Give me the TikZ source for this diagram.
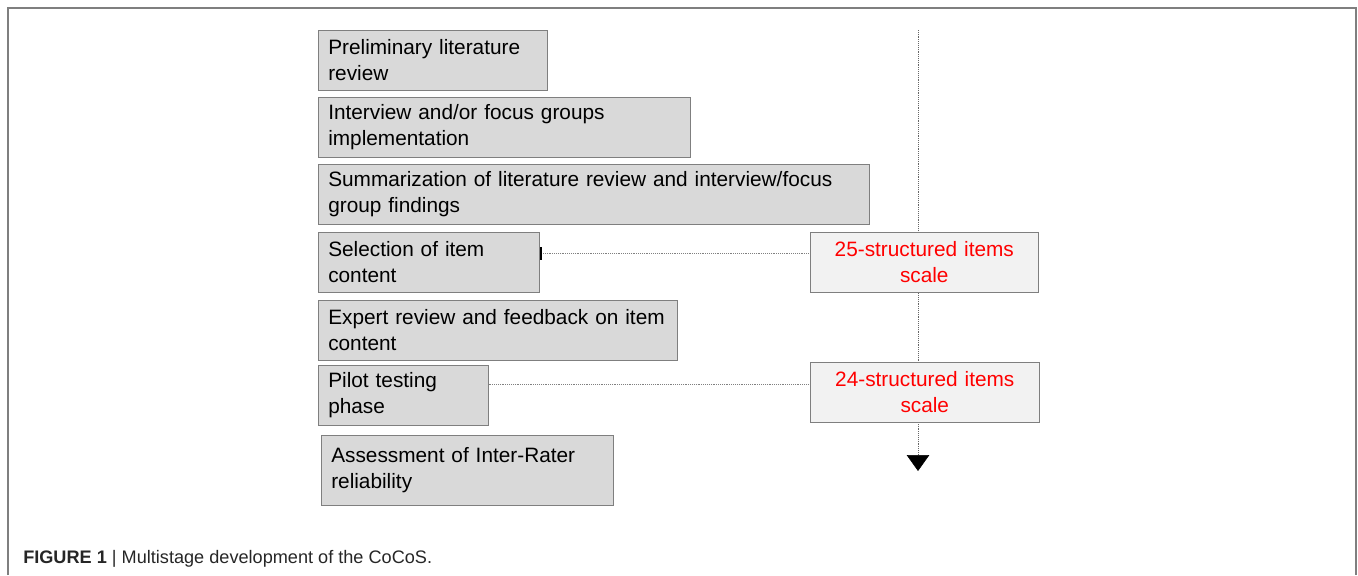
\documentclass[tikz,border=0pt]{standalone}
\usepackage{fontspec}
\setmainfont{Liberation Sans}
\usetikzlibrary{arrows.meta}
\definecolor{boxgray}{HTML}{D9D9D9}
\definecolor{scalegray}{HTML}{F2F2F2}
\definecolor{edgegray}{HTML}{7F7F7F}
\begin{document}
\begin{tikzpicture}[x=0.75pt,y=-0.75pt,
  stage/.style={draw=edgegray, fill=boxgray, anchor=north west, align=left,
    inner xsep=7.5pt, inner ysep=0pt, minimum height=45pt,
    font=\fontsize{15.6}{19.5}\selectfont},
  scalebox/.style={draw=edgegray, fill=scalegray, anchor=north west, align=center,
    inner xsep=0pt, inner ysep=0pt, minimum height=45pt, text=red,
    font=\fontsize{15.6}{19.5}\selectfont}]
\useasboundingbox (0,0) rectangle (1358,575);
\draw[edgegray, line width=1pt] (8,575) -- (8,8) -- (1356,8) -- (1356,575);

\coordinate (top) at (918,30);
\coordinate (bottom) at (918,471);
\draw[gray!80!black, densely dotted, -{Triangle[width=17pt,length=12pt,black]}] (top) -- (bottom);

\node[stage, text width=156.75pt] (prelim) at (318,30) {Preliminary literature\\review};
\node[stage, text width=264pt] (interview) at (318,97) {Interview and/or focus groups\\implementation};
\node[stage, text width=398.25pt] (summary) at (318,164) {Summarization of literature review and interview/focus\\group findings};
\node[stage, text width=150.75pt] (select) at (318,232) {Selection of item\\content};
\node[stage, text width=254.25pt] (expert) at (318,300) {Expert review and feedback on item\\content};
\node[stage, text width=112.5pt] (pilot) at (318,365) {Pilot testing\\phase};
\node[stage, text width=204pt, minimum height=52.5pt] (assess) at (321,435) {Assessment of Inter-Rater\\reliability};

\node[scalebox, text width=171pt] (scaleA) at (810,232) {25-structured items\\scale};
\node[scalebox, text width=171.75pt] (scaleB) at (810,362) {24-structured items\\scale};

\draw[gray, densely dotted, {Bar[width=10pt,black,line width=1.5pt]}-] ([yshift=6.75pt]select.east) -- ([yshift=6.75pt]scaleA.west);
\draw[gray, densely dotted] ([yshift=8.25pt]pilot.east) -- ([yshift=6pt]scaleB.west);

\node[anchor=base west, inner sep=0pt, text=black!85, font=\fontsize{13.6}{16}\selectfont] (caption) at (23,563)
  {\textbf{FIGURE 1} | Multistage development of the CoCoS.};
\end{tikzpicture}
\end{document}
